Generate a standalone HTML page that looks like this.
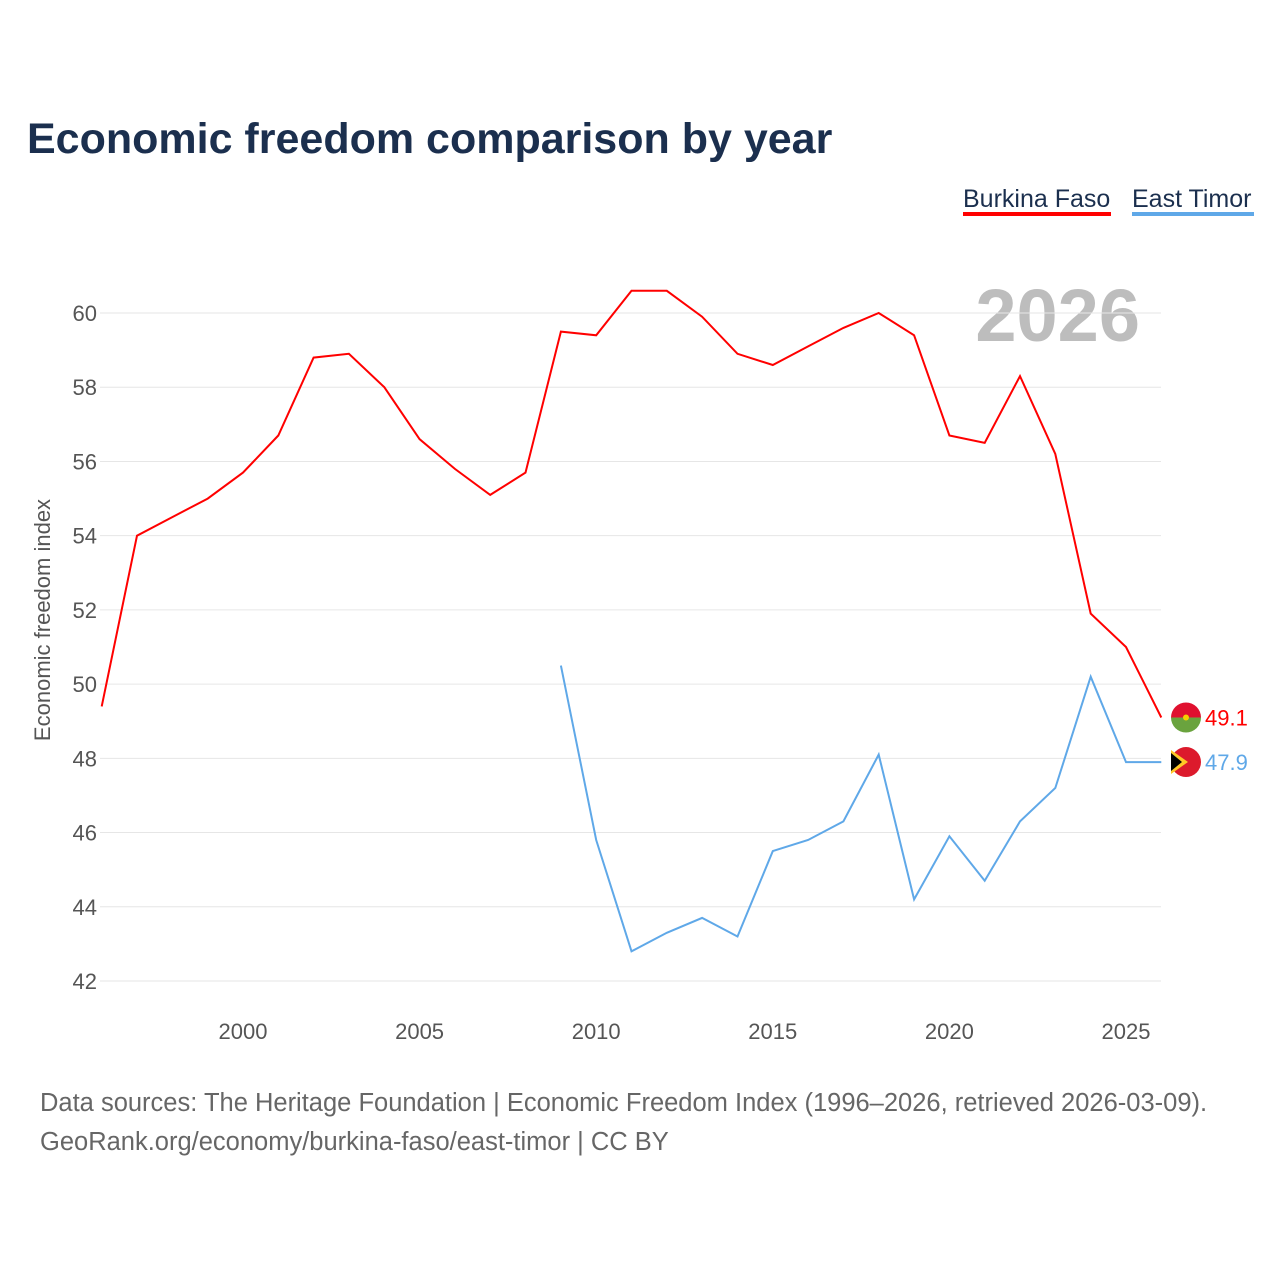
<!DOCTYPE html>
<html><head><meta charset="utf-8"><style>
body{margin:0;background:#fff;font-family:"Liberation Sans",sans-serif;}
svg text{font-family:"Liberation Sans",sans-serif;}
</style></head><body>
<svg id="chart" width="1280" height="1280" viewBox="0 0 1280 1280" xmlns="http://www.w3.org/2000/svg">
<text x="27" y="153" font-size="43" font-weight="bold" fill="#1b2f4e">Economic freedom comparison by year</text>
<g>
<g><text x="963" y="207" font-size="25" fill="#1b2f4e">Burkina Faso</text><rect x="963" y="212" width="148" height="4" fill="#ff0000"/></g>
<g><text x="1132" y="207" font-size="25" fill="#1b2f4e">East Timor</text><rect x="1132" y="212" width="122" height="4" fill="#5fa8e8"/></g>
</g>
<text x="1140" y="341" font-size="74" font-weight="bold" fill="#bdbdbd" text-anchor="end">2026</text>
<g id="grid"></g>
<g id="yticks"></g>
<g id="xticks"></g>
<text transform="translate(50,620) rotate(-90)" font-size="22" fill="#555" text-anchor="middle">Economic freedom index</text>
<g id="series"></g>
<text x="40" y="1111" font-size="25.5" fill="#666">Data sources: The Heritage Foundation | Economic Freedom Index (1996–2026, retrieved 2026-03-09).</text>
<text x="40" y="1150" font-size="25.5" fill="#666">GeoRank.org/economy/burkina-faso/east-timor | CC BY</text>
</svg>
<script>
const years=[1996,1997,1998,1999,2000,2001,2002,2003,2004,2005,2006,2007,2008,2009,2010,2011,2012,2013,2014,2015,2016,2017,2018,2019,2020,2021,2022,2023,2024,2025,2026];
const burkina=[49.4,54.0,54.5,55.0,55.7,56.7,58.8,58.9,58.0,56.6,55.8,55.1,55.7,59.5,59.4,60.6,60.6,59.9,58.9,58.6,59.1,59.6,60.0,59.4,56.7,56.5,58.3,56.2,51.9,51.0,49.1];
const timor=[null,null,null,null,null,null,null,null,null,null,null,null,null,50.5,45.8,42.8,43.3,43.7,43.2,45.5,45.8,46.3,48.1,44.2,45.9,44.7,46.3,47.2,50.2,47.9,47.9];
const yTicks=[42,44,46,48,50,52,54,56,58,60];
const xTicks=[2000,2005,2010,2015,2020,2025];
const NS="http://www.w3.org/2000/svg";
const x=v=>101.7+(v-1996)*35.32;
const y=v=>981-(v-42)*37.11;
function mk(tag,attrs,parent){const e=document.createElementNS(NS,tag);for(const k in attrs)e.setAttribute(k,attrs[k]);parent.appendChild(e);return e;}
const grid=document.getElementById('grid'),yt=document.getElementById('yticks'),xt=document.getElementById('xticks'),ser=document.getElementById('series');
yTicks.forEach(t=>{
 const l=mk('line',{x1:100,x2:1161,y1:y(t),y2:y(t),stroke:'#e6e6e6','stroke-width':1},grid);
 
 
 const tx=mk('text',{x:97,y:y(t)+8,'font-size':22,fill:'#555','text-anchor':'end'},yt);
 tx.textContent=t;
 
 
});
xTicks.forEach(t=>{
 const tx=mk('text',{x:x(t),y:1039,'font-size':22,fill:'#555','text-anchor':'middle'},xt);
 tx.textContent=t;
 
 
});
function line(vals,color,name){
 let d='';vals.forEach((v,i)=>{if(v==null)return;d+=(d?'L':'M')+x(years[i]).toFixed(1)+','+y(v).toFixed(1);});
 const p=mk('path',{d:d,fill:'none',stroke:color,'stroke-width':2},ser);
 
 
}
line(burkina,'#ff0000','burkina-faso-line');
line(timor,'#5fa8e8','east-timor-line');
const bLast=burkina[burkina.length-1],tLast=timor[timor.length-1];
const fb=mk('g',{},ser);


const cx=1186;
const cp=mk('clipPath',{id:'cb'},fb);
mk('circle',{cx:cx,cy:y(bLast),r:15},cp);
mk('rect',{x:cx-15,y:y(bLast)-15,width:30,height:15,fill:'#e0102f','clip-path':'url(#cb)'},fb);
mk('rect',{x:cx-15,y:y(bLast),width:30,height:15,fill:'#6aa33e','clip-path':'url(#cb)'},fb);
mk('circle',{cx:cx,cy:y(bLast),r:3,fill:'#f5d000'},fb);
const ft=mk('g',{},ser);


mk('circle',{cx:cx,cy:y(tLast),r:15,fill:'#dc1a2c'},ft);
mk('path',{d:`M${cx-15},${y(tLast)-12}L${cx+2},${y(tLast)}L${cx-15},${y(tLast)+12}Z`,fill:'#ffc726'},ft);
mk('path',{d:`M${cx-15},${y(tLast)-9}L${cx-4},${y(tLast)}L${cx-15},${y(tLast)+9}Z`,fill:'#000'},ft);
const lb=mk('text',{x:1205,y:y(bLast)+8,'font-size':22,fill:'#ff0000'},ser);
lb.textContent=bLast.toFixed(1);


const lt=mk('text',{x:1205,y:y(tLast)+8,'font-size':22,fill:'#5fa8e8'},ser);
lt.textContent=tLast.toFixed(1);


</script>
</body></html>
